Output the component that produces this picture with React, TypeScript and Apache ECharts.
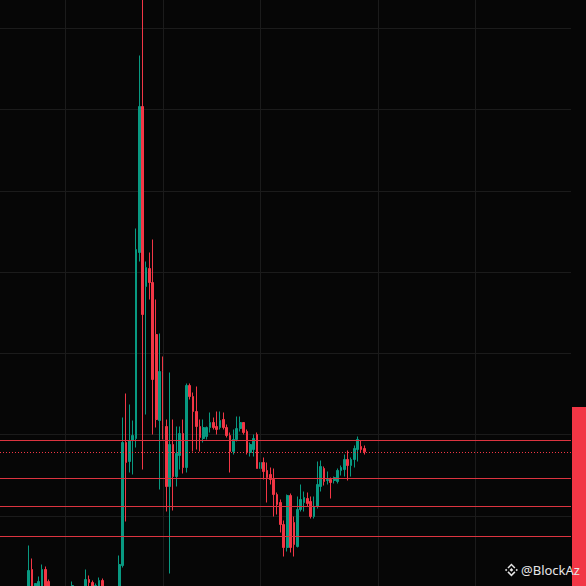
import React, { useEffect, useRef } from 'react';
import * as echarts from 'echarts';

// ---- data (price units on the chart's own vertical scale) ----
const SLOT_COUNT = 170; // visible bar slots incl. empty space on the right

const OPEN: (number | null)[] = [
  null, null, null, null, null, null, null, null,
  -2.5, 27.5, -0.5, -0.5, -2.5, 27.5, 15.5,
  null, null, null, null, null, null,
  -2.5,
  null, null, null,
  -0.5, 17.5, 14.5, -0.5, -0.5, 16.5,
  null, null, null, null,
  -2.5, 31.5, 154.5, 135.5, 156.5, 158.5, 344.5, 490.5, 310.5, 328.5,
  314.5, 262.5, 176.5, 225.5, 170.5, 110.5, 152.5, 120.5, 141.5, 163.5,
  129.5, 211.5, 200.5, 185.5, 170.5, 158.5, 160.5, 169.5, 174.5, 170.5,
  169.5, 177.5, 169.5, 161.5, 145.5, 157.5, 168.5, 174.5, 165.5, 144.5,
  147.5, 162.5, 128.5, 134.5, 126.5, 122.5, 117.5, 102.5, 94.5, 72.5,
  49.5, 101.5, 74.5, 50.5, 87.5, 94.5, 98.5, 95.5, 80.5, 90.5,
  110.5, 128.5, 116.5, 117.5, 116.5, 115.5, 126.5, 127.5, 137.5, 131.5,
  137.5, 147.5, 150.5, 148.5,
];

const CLOSE: (number | null)[] = [
  null, null, null, null, null, null, null, null,
  26.5, -0.5, 13.5, 15.5, 27.5, -0.5, -0.5,
  null, null, null, null, null, null,
  11.5,
  null, null, null,
  17.5, 14.5, -0.5, 11.5, 16.5, -0.5,
  null, null, null, null,
  32.5, 154.5, 134.5, 156.5, 161.5, 347.5, 490.5, 282.5, 329.5, 314.5,
  217.5, 177.5, 225.5, 171.5, 110.5, 152.5, 120.5, 143.5, 163.5, 129.5,
  211.5, 200.5, 185.5, 170.5, 159.5, 169.5, 169.5, 174.5, 169.5, 167.5,
  176.5, 169.5, 161.5, 145.5, 157.5, 168.5, 174.5, 164.5, 144.5, 152.5,
  158.5, 128.5, 134.5, 125.5, 119.5, 117.5, 102.5, 92.5, 72.5, 49.5,
  101.5, 49.5, 52.5, 87.5, 97.5, 99.5, 93.5, 80.5, 90.5, 112.5,
  130.5, 115.5, 117.5, 114.5, 119.5, 126.5, 129.5, 137.5, 131.5, 137.5,
  148.5, 157.5, 147.5, 145.2,
];

const LOW: (number | null)[] = [
  null, null, null, null, null, null, null, null,
  -7.5, -5.5, -4.5, -4.5, -6.5, -5.5, -4.5,
  null, null, null, null, null, null,
  -6.5,
  null, null, null,
  -4.5, 7.5, -4.5, -4.5, -4.5, -4.5,
  null, null, null, null,
  -6.5, 29.5, 75.5, 124.5, 122.5, 149.5, 335.5, 127.5, 182.5, 297.5,
  162.5, 169.5, 107.5, 157.5, 85.5, 23.5, 86.5, 110.5, 127.5, 123.5,
  124.5, 197.5, 145.5, 147.5, 145.5, 154.5, 157.5, 164.5, 167.5, 162.5,
  167.5, 167.5, 159.5, 124.5, 142.5, 155.5, 165.5, 162.5, 142.5, 140.5,
  140.5, 128.5, 110.5, 117.5, 94.5, 112.5, 80.5, 82.5, 64.5, 40.5,
  45.5, 44.5, 40.5, 49.5, 85.5, 85.5, 90.5, 78.5, 78.5, 88.5,
  105.5, 111.5, 112.5, 98.5, 113.5, 113.5, 121.5, 120.5, 116.5, 120.5,
  129.5, 135.5, 144.5, 142.5,
];

const HIGH: (number | null)[] = [
  null, null, null, null, null, null, null, null,
  51.5, 38.5, 13.5, 20.5, 32.5, 30.5, 17.5,
  null, null, null, null, null, null,
  15.5,
  null, null, null,
  27.5, 21.5, 16.5, 13.5, 19.5, 18.5,
  null, null, null, null,
  41.5, 179.5, 203.5, 192.5, 176.5, 368.5, 541.5, 605.5, 335.5, 344.5,
  357.5, 297.5, 263.5, 240.5, 177.5, 224.5, 177.5, 170.5, 170.5, 177.5,
  213.5, 213.5, 204.5, 210.5, 177.5, 177.5, 170.5, 184.5, 179.5, 185.5,
  185.5, 184.5, 172.5, 164.5, 167.5, 180.5, 180.5, 174.5, 167.5, 154.5,
  162.5, 164.5, 142.5, 139.5, 134.5, 129.5, 128.5, 104.5, 97.5, 76.5,
  102.5, 103.5, 80.5, 100.5, 112.5, 105.5, 104.5, 100.5, 100.5, 135.5,
  136.5, 130.5, 125.5, 119.5, 120.5, 128.5, 131.5, 142.5, 146.5, 139.5,
  151.5, 160.5, 156.5, 151.5,
];

// horizontal support / resistance levels
const LEVELS: number[] = [156.5, 119.2, 90.5, 60.8];
// last price (dotted line)
const LAST_PRICE = 145.2;
// slots where the vertical time grid lines fall
const TIME_GRID_SLOTS: number[] = [19, 48, 77, 112, 141];

const Y_MIN = 0;
const Y_MAX = 650;
const Y_STEP = 81.25;

const UP = '#089981';
const DOWN = '#f23645';

// the chart canvas is taller than the viewport: it starts 53px above the page top
const OFFSET_TOP = 53;
const CANVAS_H = 650;

const LOGO_D =
  'M16 12.6 L19.4 16 L16 19.4 L12.6 16 Z ' +
  'M16 4 L23.4 11.4 L21.4 13.4 L16 8 L10.6 13.4 L8.6 11.4 Z ' +
  'M16 28 L8.6 20.6 L10.6 18.6 L16 24 L21.4 18.6 L23.4 20.6 Z ' +
  'M4 16 L6.2 13.8 L8.4 16 L6.2 18.2 Z ' +
  'M23.6 16 L25.8 13.8 L28 16 L25.8 18.2 Z';

let logoRegistered = false;
function ensureLogo() {
  if (logoRegistered) return;
  echarts.graphic.registerShape('blogo', echarts.graphic.extendPath(LOGO_D, {}) as any);
  logoRegistered = true;
}

export default function App() {
  const ref = useRef<HTMLDivElement>(null);

  useEffect(() => {
    document.body.style.margin = '0';
    document.body.style.overflow = 'hidden';
    document.body.style.background = '#060606';
    ensureLogo();
    const chart = echarts.init(ref.current!, undefined, { renderer: 'svg' });

    const categories = Array.from({ length: SLOT_COUNT }, (_, i) => 'b' + i);
    const candles = categories.map((_, i) => {
      const o = OPEN[i];
      if (o === null || o === undefined) return '-';
      return [o, CLOSE[i], LOW[i], HIGH[i]];
    });

    const option: any = {
      animation: false,
      backgroundColor: '#060606',
      grid: { left: 0, right: 15, top: 0, bottom: 0, containLabel: false },
      xAxis: {
        type: 'category',
        data: categories,
        boundaryGap: true,
        axisLine: { show: false },
        axisTick: { show: false },
        axisLabel: { show: false },
        splitLine: { show: false },
      },
      yAxis: {
        type: 'value',
        min: Y_MIN,
        max: Y_MAX,
        interval: Y_STEP,
        axisLine: { show: false },
        axisTick: { show: false },
        axisLabel: { show: false },
        splitLine: { show: true, lineStyle: { color: '#1b1b1b', width: 1 } },
      },
      series: [
        {
          type: 'line',
          data: [],
          z: 1,
          silent: true,
          markLine: {
            silent: true,
            symbol: ['none', 'none'],
            label: { show: false },
            lineStyle: { color: '#1b1b1b', width: 1, type: 'solid' },
            data: TIME_GRID_SLOTS.map((s) => ({ xAxis: s })),
          },
        },
        {
          type: 'candlestick',
          data: candles,
          z: 3,
          clip: true,
          barWidth: 2.2,
          itemStyle: {
            color: UP,
            color0: DOWN,
            borderColor: UP,
            borderColor0: DOWN,
            borderWidth: 1,
          },
          markLine: {
            silent: true,
            symbol: ['none', 'none'],
            label: { show: false },
            lineStyle: { color: '#dc3440', width: 1, type: 'solid' },
            data: [
              ...LEVELS.map((v) => ({ yAxis: v })),
              { yAxis: LAST_PRICE, lineStyle: { color: DOWN, width: 1, type: [1, 2] } },
            ],
          },
        },
      ],
      graphic: [
        {
          type: 'rect',
          shape: { x: 572, y: 407 + OFFSET_TOP, width: 14, height: 179 },
          style: { fill: DOWN },
          z: 10,
        },
        {
          type: 'blogo',
          x: 502.8,
          y: 561.3 + OFFSET_TOP,
          scaleX: 0.54,
          scaleY: 0.54,
          style: { fill: '#e6e6e6' },
          z: 10,
        },
        {
          type: 'text',
          x: 521,
          y: 570 + OFFSET_TOP,
          style: {
            text: '@BlockAz',
            fill: '#e6e6e6',
            fontSize: 13,
            fontFamily: '"Noto Sans", Roboto, sans-serif',
            verticalAlign: 'middle',
            align: 'left',
          },
          z: 10,
        },
      ],
    };

    chart.setOption(option);
    return () => chart.dispose();
  }, []);

  return (
    <div
      ref={ref}
      style={{ position: 'fixed', left: 0, top: -OFFSET_TOP, width: 586, height: CANVAS_H }}
    />
  );
}
